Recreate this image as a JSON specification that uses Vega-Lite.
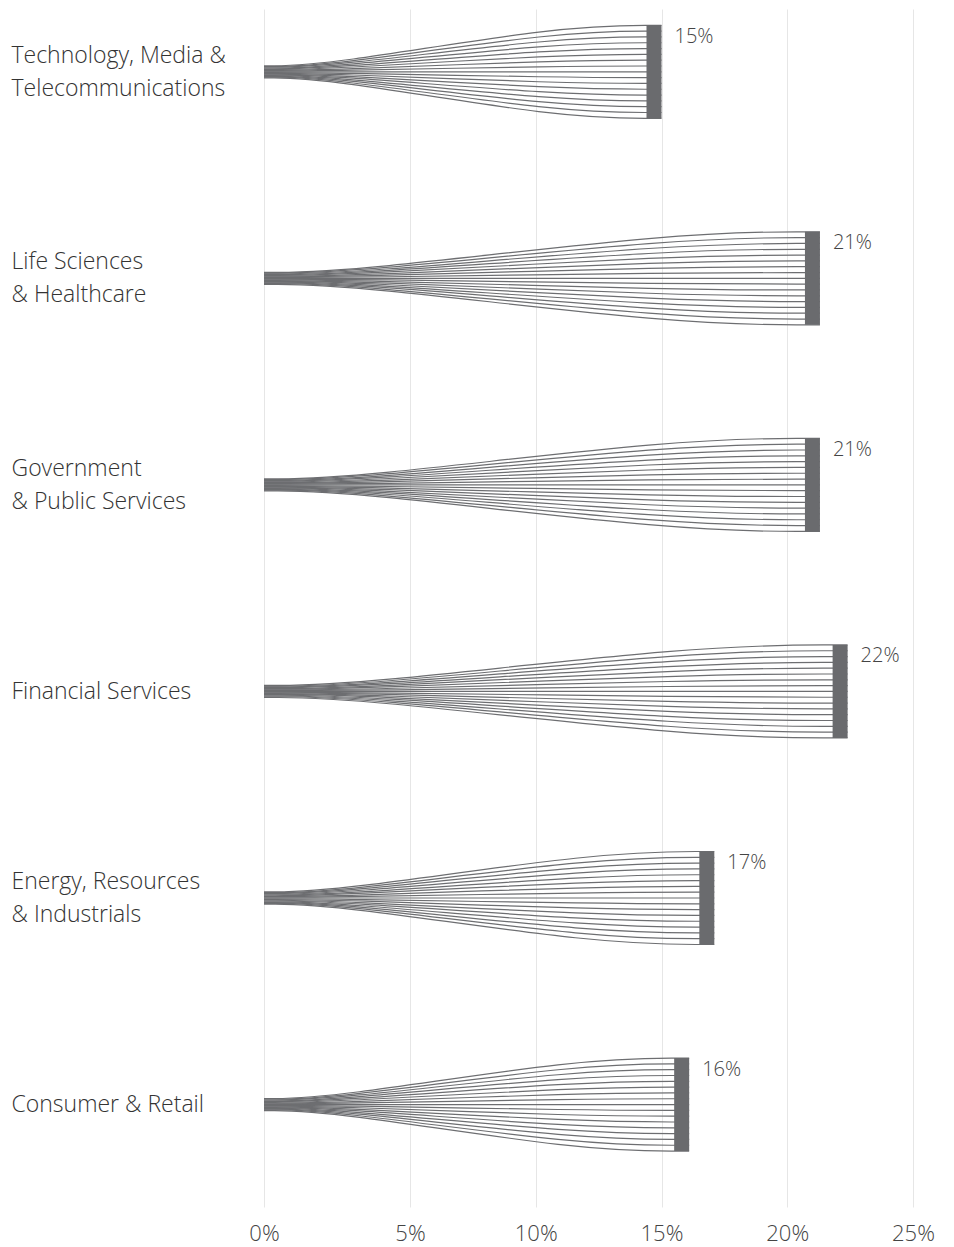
{
  "$schema": "https://vega.github.io/schema/vega-lite/v6.json",
  "width": 649,
  "height": 1198,
  "padding": {"left": 11, "top": 9, "right": 0, "bottom": 0},
  "config": {"view": {"stroke": null}, "font": "Open Sans", "line": {"interpolate": "basis", "stroke": "#6d6e71", "strokeWidth": 1.2}},
  "datasets": {
    "pts": [
      {"l": -8, "k": 0, "o": -0.13}, {"l": -8, "k": 1, "o": -0.13}, {"l": -8, "k": 2, "o": -1}, {"l": -8, "k": 3, "o": -1},
      {"l": -7, "k": 0, "o": -0.11375}, {"l": -7, "k": 1, "o": -0.11375}, {"l": -7, "k": 2, "o": -0.875}, {"l": -7, "k": 3, "o": -0.875},
      {"l": -6, "k": 0, "o": -0.0975}, {"l": -6, "k": 1, "o": -0.0975}, {"l": -6, "k": 2, "o": -0.75}, {"l": -6, "k": 3, "o": -0.75},
      {"l": -5, "k": 0, "o": -0.08125}, {"l": -5, "k": 1, "o": -0.08125}, {"l": -5, "k": 2, "o": -0.625}, {"l": -5, "k": 3, "o": -0.625},
      {"l": -4, "k": 0, "o": -0.065}, {"l": -4, "k": 1, "o": -0.065}, {"l": -4, "k": 2, "o": -0.5}, {"l": -4, "k": 3, "o": -0.5},
      {"l": -3, "k": 0, "o": -0.04875}, {"l": -3, "k": 1, "o": -0.04875}, {"l": -3, "k": 2, "o": -0.375}, {"l": -3, "k": 3, "o": -0.375},
      {"l": -2, "k": 0, "o": -0.0325}, {"l": -2, "k": 1, "o": -0.0325}, {"l": -2, "k": 2, "o": -0.25}, {"l": -2, "k": 3, "o": -0.25},
      {"l": -1, "k": 0, "o": -0.01625}, {"l": -1, "k": 1, "o": -0.01625}, {"l": -1, "k": 2, "o": -0.125}, {"l": -1, "k": 3, "o": -0.125},
      {"l": 0, "k": 0, "o": 0}, {"l": 0, "k": 1, "o": 0}, {"l": 0, "k": 2, "o": 0}, {"l": 0, "k": 3, "o": 0},
      {"l": 1, "k": 0, "o": 0.01625}, {"l": 1, "k": 1, "o": 0.01625}, {"l": 1, "k": 2, "o": 0.125}, {"l": 1, "k": 3, "o": 0.125},
      {"l": 2, "k": 0, "o": 0.0325}, {"l": 2, "k": 1, "o": 0.0325}, {"l": 2, "k": 2, "o": 0.25}, {"l": 2, "k": 3, "o": 0.25},
      {"l": 3, "k": 0, "o": 0.04875}, {"l": 3, "k": 1, "o": 0.04875}, {"l": 3, "k": 2, "o": 0.375}, {"l": 3, "k": 3, "o": 0.375},
      {"l": 4, "k": 0, "o": 0.065}, {"l": 4, "k": 1, "o": 0.065}, {"l": 4, "k": 2, "o": 0.5}, {"l": 4, "k": 3, "o": 0.5},
      {"l": 5, "k": 0, "o": 0.08125}, {"l": 5, "k": 1, "o": 0.08125}, {"l": 5, "k": 2, "o": 0.625}, {"l": 5, "k": 3, "o": 0.625},
      {"l": 6, "k": 0, "o": 0.0975}, {"l": 6, "k": 1, "o": 0.0975}, {"l": 6, "k": 2, "o": 0.75}, {"l": 6, "k": 3, "o": 0.75},
      {"l": 7, "k": 0, "o": 0.11375}, {"l": 7, "k": 1, "o": 0.11375}, {"l": 7, "k": 2, "o": 0.875}, {"l": 7, "k": 3, "o": 0.875},
      {"l": 8, "k": 0, "o": 0.13}, {"l": 8, "k": 1, "o": 0.13}, {"l": 8, "k": 2, "o": 1}, {"l": 8, "k": 3, "o": 1}
    ],
    "ctrl": [
      {"k": 0, "tmt": 0, "ls": 0, "gov": 0, "fs": 0, "eri": 0, "cr": 0},
      {"k": 1, "tmt": 2.04, "ls": 2.86, "gov": 2.86, "fs": 3.0, "eri": 2.31, "cr": 2.18},
      {"k": 2, "tmt": 11.04, "ls": 15.78, "gov": 15.78, "fs": 16.58, "eri": 12.62, "cr": 11.87},
      {"k": 3, "tmt": 15, "ls": 21.3, "gov": 21.3, "fs": 22.4, "eri": 17.1, "cr": 16.1}
    ],
    "bars": [
      {"ind": "Technology, Media &\nTelecommunications", "v": 15, "label": "15%"},
      {"ind": "Life Sciences\n& Healthcare", "v": 21.3, "label": "21%"},
      {"ind": "Government\n& Public Services", "v": 21.3, "label": "21%"},
      {"ind": "Financial Services", "v": 22.4, "label": "22%"},
      {"ind": "Energy, Resources\n& Industrials", "v": 17.1, "label": "17%"},
      {"ind": "Consumer & Retail", "v": 16.1, "label": "16%"}
    ]
  },
  "layer": [
    {
      "data": {"name": "pts"},
      "transform": [
        {"lookup": "k", "from": {"data": {"name": "ctrl"}, "key": "k", "fields": ["tmt", "ls", "gov", "fs", "eri", "cr"]}}
      ],
      "encoding": {
        "yOffset": {"field": "o", "type": "quantitative", "scale": {"domain": [-1, 1], "range": [-46.5, 46.5]}},
        "detail": {"field": "l", "type": "nominal"},
        "order": {"field": "k", "type": "quantitative"}
      },
      "layer": [
        {"mark": "line", "encoding": {"x": {"field": "tmt", "type": "quantitative", "title": null}, "y": {"datum": "Technology, Media &\nTelecommunications", "type": "nominal"}}},
        {"mark": "line", "encoding": {"x": {"field": "ls", "type": "quantitative", "title": null}, "y": {"datum": "Life Sciences\n& Healthcare", "type": "nominal"}}},
        {"mark": "line", "encoding": {"x": {"field": "gov", "type": "quantitative", "title": null}, "y": {"datum": "Government\n& Public Services", "type": "nominal"}}},
        {"mark": "line", "encoding": {"x": {"field": "fs", "type": "quantitative", "title": null}, "y": {"datum": "Financial Services", "type": "nominal"}}},
        {"mark": "line", "encoding": {"x": {"field": "eri", "type": "quantitative", "title": null}, "y": {"datum": "Energy, Resources\n& Industrials", "type": "nominal"}}},
        {"mark": "line", "encoding": {"x": {"field": "cr", "type": "quantitative", "title": null}, "y": {"datum": "Consumer & Retail", "type": "nominal"}}}
      ]
    },
    {
      "data": {"name": "bars"},
      "mark": {"type": "tick", "orient": "vertical", "thickness": 15, "size": 93, "xOffset": -7.5, "color": "#6a6b6e", "opacity": 1},
      "encoding": {
        "x": {
          "field": "v", "type": "quantitative", "title": null,
          "scale": {"domain": [0, 5, 25], "range": [0, 146, 649], "nice": false, "zero": false},
          "axis": {
            "values": [0, 5, 10, 15, 20, 25],
            "labelExpr": "datum.value + '%'",
            "grid": true, "gridColor": "#e6e6e6", "gridWidth": 1,
            "domain": false, "ticks": false, "labelFlush": false, "labelBound": false,
            "labelFont": "Open Sans", "labelFontWeight": 300, "labelFontSize": 22, "labelColor": "#444",
            "labelPadding": 16
          }
        },
        "y": {
          "field": "ind", "type": "nominal", "title": null,
          "scale": {
            "type": "point",
            "domain": ["Technology, Media &\nTelecommunications", "Life Sciences\n& Healthcare", "Government\n& Public Services", "Financial Services", "Energy, Resources\n& Industrials", "Consumer & Retail"],
            "padding": 0.4, "align": 0.38
          },
          "axis": {
            "domain": false, "ticks": false, "grid": false,
            "labelExpr": "split(datum.value, '\\n')",
            "labelAlign": "left", "labelBaseline": "middle", "labelPadding": 253, "labelLimit": 400,
            "labelOffset": {"condition": {"test": "indexof(datum.value, '\\n') >= 0", "value": -16.5}, "value": 0},
            "labelFont": "Open Sans", "labelFontWeight": 300, "labelFontSize": 23, "labelLineHeight": 33, "labelColor": "#333"
          }
        }
      }
    },
    {
      "data": {"name": "bars"},
      "mark": {"type": "text", "align": "left", "baseline": "alphabetic", "dx": 13, "dy": -29, "fontSize": 20, "fontWeight": 300, "font": "Open Sans", "color": "#444"},
      "encoding": {
        "x": {"field": "v", "type": "quantitative"},
        "y": {"field": "ind", "type": "nominal"},
        "text": {"field": "label"}
      }
    }
  ]
}
